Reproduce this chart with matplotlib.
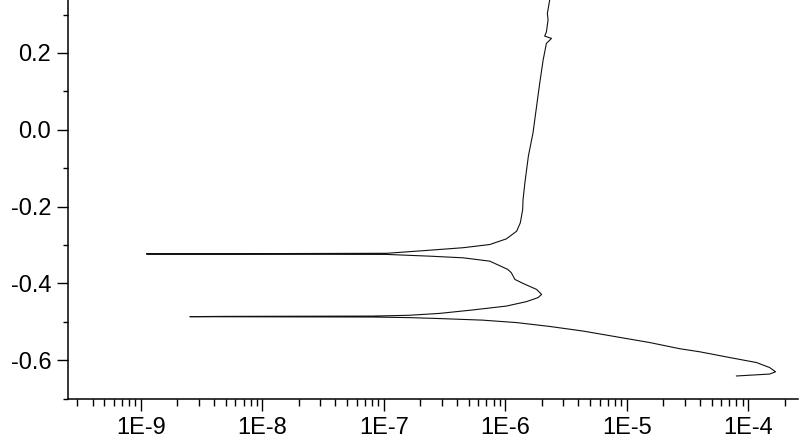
import numpy as np
import matplotlib.pyplot as plt
from matplotlib.ticker import LogLocator, MultipleLocator, FuncFormatter

# polarization scan (current in A, potential in V)
current = [8.0e-5, 1.50e-4, 1.68e-4, 1.50e-4, 1.17e-4, 7.05e-5, 3.99e-5,
           2.73e-5, 1.55e-5, 4.36e-6, 2.32e-6, 1.24e-6, 6.5e-7, 2.89e-7,
           1.6e-7, 8.1e-8, 4.9e-9, 2.53e-9,
           4.9e-9, 8.1e-8, 1.6e-7, 2.89e-7, 5.41e-7, 1.02e-6, 1.49e-6,
           1.86e-6, 1.99e-6, 1.81e-6, 1.40e-6, 1.20e-6, 1.12e-6, 1.05e-6,
           7.45e-7, 4.5e-7, 2.39e-7, 1.06e-7, 5.7e-9, 1.11e-9,
           5.7e-9, 1.06e-7, 2.39e-7, 4.5e-7, 7.45e-7, 1.02e-6, 1.24e-6,
           1.33e-6, 1.39e-6, 1.40e-6, 1.45e-6, 1.55e-6, 1.69e-6, 1.84e-6,
           1.92e-6, 2.05e-6, 2.18e-6, 2.40e-6, 2.11e-6, 2.18e-6, 2.25e-6,
           2.22e-6, 2.32e-6, 2.36e-6]
potential = [-0.641, -0.636, -0.630, -0.619, -0.606, -0.593, -0.578,
             -0.570, -0.554, -0.524, -0.512, -0.502, -0.4956, -0.4915,
             -0.489, -0.4875, -0.4868, -0.4865,
             -0.4858, -0.4850, -0.483, -0.478, -0.469, -0.459, -0.4475,
             -0.437, -0.4286, -0.4156, -0.400, -0.3896, -0.372, -0.3636,
             -0.342, -0.3333, -0.329, -0.3245, -0.3238, -0.3232,
             -0.3226, -0.3215, -0.3135, -0.307, -0.2987, -0.284, -0.264,
             -0.242, -0.208, -0.182, -0.138, -0.068, -0.0086, 0.078,
             0.121, 0.182, 0.225, 0.238, 0.244, 0.255, 0.286,
             0.303, 0.338, 0.351]

decades = [1e-9, 1e-8, 1e-7, 1e-6, 1e-5, 1e-4]
decade_labels = ["1E-9", "1E-8", "1E-7", "1E-6", "1E-5", "1E-4"]

plt.rcParams['font.family'] = ['Liberation Sans', 'DejaVu Sans']
plt.rcParams['axes.unicode_minus'] = False

fig = plt.figure(figsize=(8, 4.4), dpi=100)
ax = fig.add_axes([0.085, 0.094, 0.9125, 0.906])
ax.plot(current, potential, color='#111111', lw=0.8)

ax.set_xscale('log')
ax.set_xlim(2.51e-10, 2.57e-4)
ax.set_ylim(-0.7, 0.338)

ax.set_xticks(decades)
ax.xaxis.set_major_formatter(FuncFormatter(
    lambda v, p: decade_labels[decades.index(v)] if v in decades else ""))
ax.xaxis.set_minor_locator(LogLocator(base=10, subs=np.arange(2, 10)))
ax.xaxis.set_minor_formatter(FuncFormatter(lambda v, p: ""))
ax.yaxis.set_major_locator(MultipleLocator(0.2))
ax.yaxis.set_minor_locator(MultipleLocator(0.1))
ax.yaxis.set_major_formatter(FuncFormatter(lambda v, p: "%.1f" % (0 if abs(v) < 1e-9 else v)))

for side in ['top', 'right']:
    ax.spines[side].set_visible(False)
for side in ['left', 'bottom']:
    ax.spines[side].set_linewidth(1.1)

ax.tick_params(axis='x', which='major', direction='out', length=8.5, width=1, labelsize=17, pad=5)
ax.tick_params(axis='x', which='minor', direction='out', length=5, width=1)
ax.tick_params(axis='y', which='major', direction='out', length=8, width=1, labelsize=17, pad=4)
ax.tick_params(axis='y', which='minor', direction='out', length=3.6, width=1)

fig.savefig("out.png", dpi=100)
